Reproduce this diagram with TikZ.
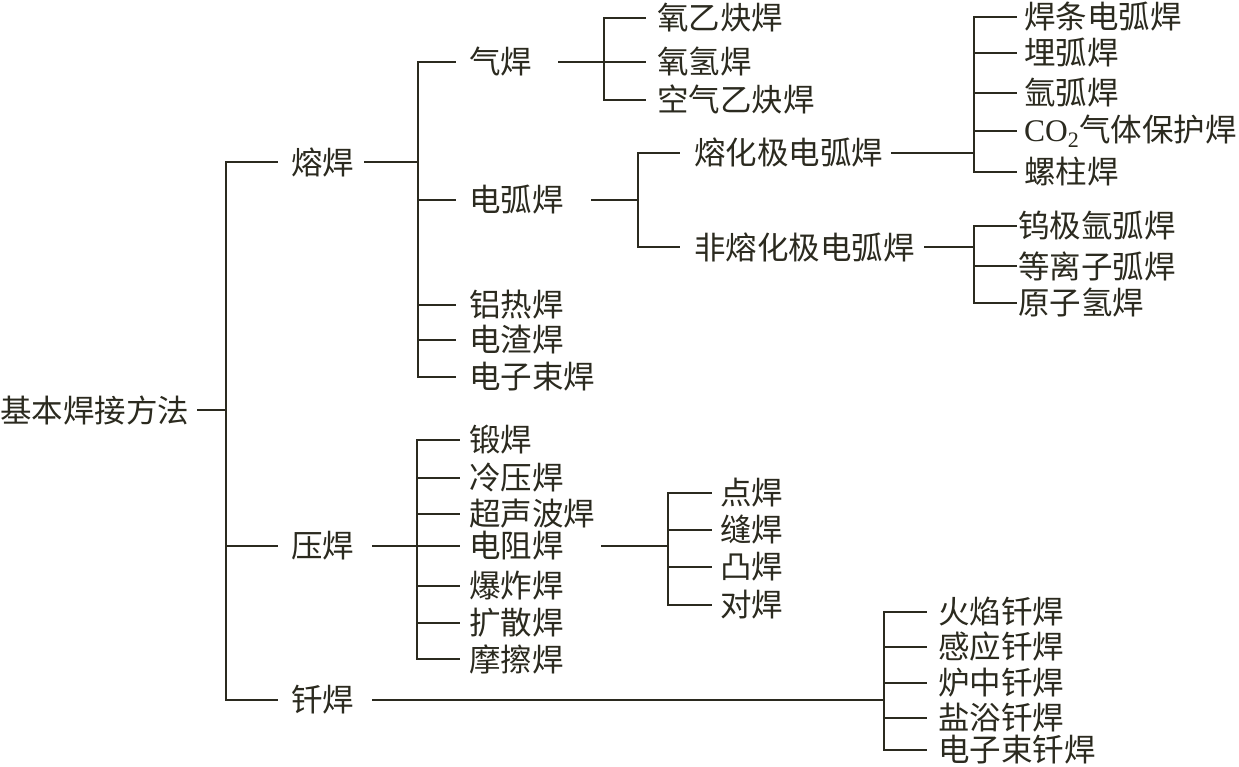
\documentclass[tikz,border=0pt]{standalone}
\usepackage{fontspec}
\setmainfont{Liberation Serif}
\newfontfamily\cjk{Noto Sans CJK SC}
\usetikzlibrary{calc}
\definecolor{ink}{HTML}{2B2A1F}

\begin{document}
\begin{tikzpicture}[x=1pt, y=-1pt,
    lbl/.style={anchor=west, inner sep=0pt, text=ink, font=\cjk\fontsize{31.5}{31.5}\selectfont},
    link/.style={draw=ink, line width=1.5pt, line cap=rect}]
  \useasboundingbox (0,0) rectangle (1239,767);

  % root and main groups
  \node[lbl] (root) at (0,410) {基本焊接方法};
  \node[lbl] (rong) at (291,162) {熔焊};
  \node[lbl] (ya)   at (291,546) {压焊};
  \node[lbl] (qian) at (291,700) {钎焊};

  % second level
  \foreach \nm/\yy/\txt in {qi/62/气焊, hu/200/电弧焊, lr/305/铝热焊, dz/340/电渣焊, dzs/377/电子束焊}
    \node[lbl] (\nm) at (469,\yy) {\txt};
  \foreach \nm/\yy/\txt in {dh/440/锻焊, lyh/478/冷压焊, csb/514/超声波焊, dzu/546/电阻焊,
                           bz/586/爆炸焊, ks/623/扩散焊, mc/659/摩擦焊}
    \node[lbl] (\nm) at (469,\yy) {\txt};

  % third level
  \foreach \nm/\yy/\txt in {yyq/18/氧乙炔焊, yq/62/氧氢焊, kq/100/空气乙炔焊}
    \node[lbl] (\nm) at (657,\yy) {\txt};
  \node[lbl] (rhj)  at (694,153) {熔化极电弧焊};
  \node[lbl] (frhj) at (694,247) {非熔化极电弧焊};
  \foreach \nm/\yy/\txt in {dian/493/点焊, feng/530/缝焊, tu/567/凸焊, dui/605/对焊}
    \node[lbl] (\nm) at (720,\yy) {\txt};
  \foreach \nm/\yy/\txt in {hy/612/火焰钎焊, gy/647/感应钎焊, lz/683/炉中钎焊, yy/718/盐浴钎焊, dzq/750/电子束钎焊}
    \node[lbl] (\nm) at (938,\yy) {\txt};

  % fourth level
  \foreach \nm/\yy/\txt in {htiao/17/焊条电弧焊, mai/53/埋弧焊, yahu/93/氩弧焊,
                           co/131/{\rmfamily CO\textsubscript{2}}气体保护焊, luo/172/螺柱焊}
    \node[lbl] (\nm) at (1024,\yy) {\txt};
  \foreach \nm/\yy/\txt in {wu/226/钨极氩弧焊, dlz/266/等离子弧焊, yzq/303/原子氢焊}
    \node[lbl] (\nm) at (1018,\yy) {\txt};

  % junction columns
  \coordinate (j0) at (226,0);
  \coordinate (ja) at (418,0);
  \coordinate (jb) at (417,0);
  \coordinate (jc) at (604,0);
  \coordinate (jd) at (638,0);
  \coordinate (je) at (668,0);
  \coordinate (jf) at (884,0);
  \coordinate (jg) at (974,0);

  % root -> main groups
  \draw[link] ([xshift=8pt]root.east) -- (root -| j0);
  \draw[link] (j0 |- rong) -- (j0 |- qian);
  \foreach \nm in {rong, ya, qian}
    \draw[link] (j0 |- \nm) -- ([xshift=-14pt]\nm.west);

  % fusion welding
  \draw[link] ([xshift=10pt]rong.east) -- (rong -| ja);
  \draw[link] (ja |- qi) -- (ja |- dzs);
  \foreach \nm in {qi, hu, lr, dz, dzs}
    \draw[link] (ja |- \nm) -- ([xshift=-14pt]\nm.west);

  % pressure welding
  \draw[link] ([xshift=18pt]ya.east) -- (ya -| jb);
  \draw[link] (jb |- dh) -- (jb |- mc);
  \foreach \nm in {dh, lyh, csb, dzu, bz, ks, mc}
    \draw[link] (jb |- \nm) -- ([xshift=-10pt]\nm.west);

  % gas welding
  \draw[link] ([xshift=26pt]qi.east) -- (qi -| jc);
  \draw[link] (jc |- yyq) -- (jc |- kq);
  \foreach \nm in {yyq, yq, kq}
    \draw[link] (jc |- \nm) -- ([xshift=-12pt]\nm.west);

  % arc welding
  \draw[link] ([xshift=28pt]hu.east) -- (hu -| jd);
  \draw[link] (jd |- rhj) -- (jd |- frhj);
  \foreach \nm in {rhj, frhj}
    \draw[link] (jd |- \nm) -- ([xshift=-15pt]\nm.west);

  \draw[link] ([xshift=8pt]rhj.east) -- (rhj -| jg);
  \draw[link] (jg |- htiao) -- (jg |- luo);
  \foreach \nm in {htiao, mai, yahu, co, luo}
    \draw[link] (jg |- \nm) -- ([xshift=-8pt]\nm.west);

  \draw[link] ([xshift=10pt]frhj.east) -- (frhj -| jg);
  \draw[link] (jg |- wu) -- (jg |- yzq);
  \foreach \nm in {wu, dlz, yzq}
    \draw[link] (jg |- \nm) -- ([xshift=-2pt]\nm.west);

  % resistance welding
  \draw[link] ([xshift=38pt]dzu.east) -- (dzu -| je);
  \draw[link] (je |- dian) -- (je |- dui);
  \foreach \nm in {dian, feng, tu, dui}
    \draw[link] (je |- \nm) -- ([xshift=-9pt]\nm.west);

  % brazing
  \draw[link] ([xshift=18pt]qian.east) -- (qian -| jf);
  \draw[link] (jf |- hy) -- (jf |- dzq);
  \foreach \nm in {hy, gy, lz, yy, dzq}
    \draw[link] (jf |- \nm) -- ([xshift=-12pt]\nm.west);
\end{tikzpicture}
\end{document}
